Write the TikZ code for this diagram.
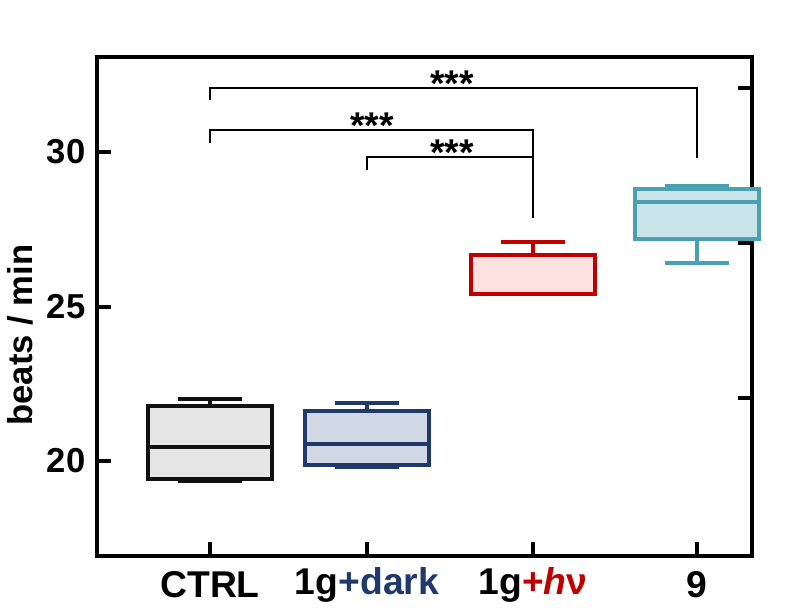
\documentclass[tikz,border=0pt]{standalone}
\usepackage{fontspec}
\setmainfont{Liberation Sans}
\definecolor{ctrlline}{HTML}{111111}
\definecolor{ctrlfill}{HTML}{E6E6E6}
\definecolor{darkline}{HTML}{1F3A6A}
\definecolor{darkfill}{HTML}{D0D8E3}
\definecolor{hvline}{HTML}{C00000}
\definecolor{hvfill}{HTML}{FDE0E0}
\definecolor{nineline}{HTML}{4AA0B0}
\definecolor{ninefill}{HTML}{C9E4E8}
\tikzset{
  boxp/.style={line width=2.8pt},
  brk/.style={line width=1.2pt},
  ticklab/.style={font=\fontsize{26}{26}\bfseries\selectfont},
  catlab/.style={font=\fontsize{28}{28}\bfseries\selectfont},
  stars/.style={font=\fontsize{28}{28}\bfseries\selectfont}
}
% \boxplot{x}{median}{q3}{q1}{whisker top}{whisker bottom}{line}{fill}
\newcommand{\boxplot}[8]{
  \draw[boxp, #7] (#1, #5) -- (#1, #3) (#1, #4) -- (#1, #6);
  \draw[boxp, #7] (#1-32, #5) -- (#1+32, #5) (#1-32, #6) -- (#1+32, #6);
  \draw[boxp, draw=#7, fill=#8] (#1-62, #3) rectangle (#1+62, #4);
  \draw[boxp, #7] (#1-62, #2) -- (#1+62, #2);
}
\begin{document}
\begin{tikzpicture}[x=0.0264cm, y=-0.0264cm]
  \useasboundingbox (0,0) rectangle (812,614);

  % Frame
  \draw[line width=2.8pt] (97,57) rectangle (752,556);

  % Ticks
  \foreach \y/\l in {152/30, 307/25, 461/20} {
    \draw[line width=2.8pt] (97,\y) -- (111,\y);
    \node[ticklab, anchor=east] at (90,\y) {\l};
  }
  \foreach \y in {88, 243, 398}
    \draw[line width=2.8pt] (752,\y) -- (738,\y);
  \foreach \x in {210, 367, 533, 697}
    \draw[line width=2.8pt] (\x,556) -- (\x,542);

  % Axis labels
  \node[ticklab, rotate=90] at (20,335) {beats / min};
  \node[catlab] at (210,585) {CTRL};
  \node[catlab] at (367,585) {1g\textcolor{darkline}{+dark}};
  \node[catlab] at (533,585) {1g\textcolor{hvline}{+\textit{h}ν}};
  \node[catlab] at (697,585) {9};

  % Boxes
  \boxplot{210}{447}{406}{479}{399}{481}{ctrlline}{ctrlfill}
  \boxplot{367}{444}{411}{465}{403}{467}{darkline}{darkfill}
  \boxplot{533}{294}{255}{294}{242}{294}{hvline}{hvfill}
  \boxplot{697}{202}{189}{239}{186}{263}{nineline}{ninefill}

  % Significance brackets
  \draw[brk] (210,100) -- (210,88) -- (697,88) -- (697,158);
  \node[stars] at (452,84) {***};
  \draw[brk] (210,143) -- (210,130) -- (533,130) -- (533,218);
  \node[stars] at (372,126) {***};
  \draw[brk] (367,170) -- (367,157) -- (533,157);
  \node[stars] at (452,153) {***};
\end{tikzpicture}
\end{document}
